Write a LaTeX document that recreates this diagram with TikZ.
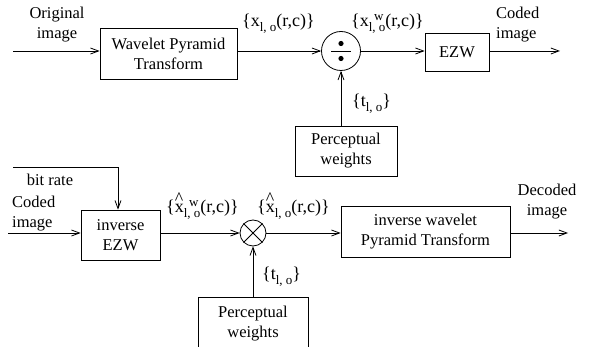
\documentclass[tikz,border=0pt]{standalone}
\usepackage{fontspec}
\setmainfont{Liberation Serif}
\usetikzlibrary{arrows.meta}
\newcommand{\sbx}[1]{\raisebox{-0.6ex}{\fontsize{13}{13}\selectfont #1}}
\newcommand{\spx}[1]{\rlap{\hspace{0.3em}\raisebox{0.75ex}{\fontsize{13}{13}\selectfont #1}}}
\newcommand{\hx}{\rlap{\raisebox{1.0ex}{\textasciicircum}}x}
\tikzset{
  every node/.style={font=\fontsize{16.5}{20}\selectfont, inner sep=0pt},
  box/.style={draw, line width=0.8pt, align=center},
  circ/.style={draw, circle, line width=0.8pt},
  conn/.style={line width=0.8pt},
  arr/.style={conn, -{Straight Barb[length=8pt,width=6pt,line width=0.8pt]}},
  lab/.style={align=center},
  mlab/.style={anchor=base west, font=\fontsize{18}{20}\selectfont},
}
\begin{document}
\begin{tikzpicture}[x=1pt,y=-1pt]
\useasboundingbox (0,0) rectangle (589,347);
\clip (0,0) rectangle (589,347);
% top row
\coordinate (in1) at (13,51);
\coordinate (out1) at (560,51);
\node[box, minimum width=137pt, minimum height=51pt] (wpt) at (168.5,53.5) {Wavelet Pyramid\\Transform};
\node[circ, minimum size=39pt] (div) at (341,51) {};
\node[box, minimum width=64pt, minimum height=38pt] (ezw) at (457,52) {EZW};
\node[box, minimum width=102pt, minimum height=50pt] (pw1) at (346,151) {Perceptual\\weights};
\draw[arr] (in1) -- (in1 -| wpt.west);
\draw[arr] (wpt.east |- div) -- (div.west);
\draw[arr] (div.east) -- (div -| ezw.west);
\draw[arr] (div -| ezw.east) -- (out1);
\draw[arr] (div |- pw1.north) -- (div.south);
\fill (div.center) ++(0,-7.5) circle (2.6pt);
\fill (div.center) ++(0,7.5) circle (2.6pt);
\draw[conn] (div.center) ++(-10,0) -- ++(20,0);
\node[lab] (t1) at (57,25) {Original\\image};
\node[mlab] (xl) at (242,27) {\{x\sbx{l, o}(r,c)\}};
\node[mlab] (xwl) at (351,27) {\{x\spx{w}\sbx{l, o}(r,c)\}};
\node[align=left, anchor=west] (ci1) at (496,25) {Coded\\image};
\node[mlab] (tl1) at (352,107) {\{t\sbx{l, o}\}};
% bottom row
\coordinate (br) at (13,167);
\coordinate (in2) at (8,233);
\coordinate (out2) at (568,233);
\node[box, minimum width=79pt, minimum height=50pt] (iezw) at (120.5,235) {inverse\\EZW};
\node[circ, minimum size=26pt] (mul) at (253,233) {};
\node[box, minimum width=169pt, minimum height=51pt] (iwpt) at (425.5,231.5) {inverse wavelet\\Pyramid Transform};
\node[box, minimum width=110pt, minimum height=54pt] (pw2) at (253,324) {Perceptual\\weights};
\draw[arr] (br) -| (iezw.north -| 118,0);
\draw[arr] (in2) -- (in2 -| iezw.west);
\draw[arr] (mul -| iezw.east) -- (mul.west);
\draw[arr] (mul.east) -- (mul -| iwpt.west);
\draw[arr] (mul -| iwpt.east) -- (out2);
\draw[arr] (pw2.north) -- (mul.south);
\draw[conn] (mul.north west) -- (mul.south east);
\draw[conn] (mul.north east) -- (mul.south west);
\node[lab] (bitr) at (50,180) {bit rate};
\node[align=left, anchor=west] (ci2) at (12,214) {Coded\\image};
\node[mlab] (hxwl) at (166,213) {\{\hx\spx{w}\sbx{l, o}(r,c)\}};
\node[mlab] (hxl) at (257,213) {\{\hx\sbx{l, o}(r,c)\}};
\node[mlab] (tl2) at (262,280) {\{t\sbx{l, o}\}};
\node[lab] (dec) at (547,202) {Decoded\\image};
\end{tikzpicture}
\end{document}
